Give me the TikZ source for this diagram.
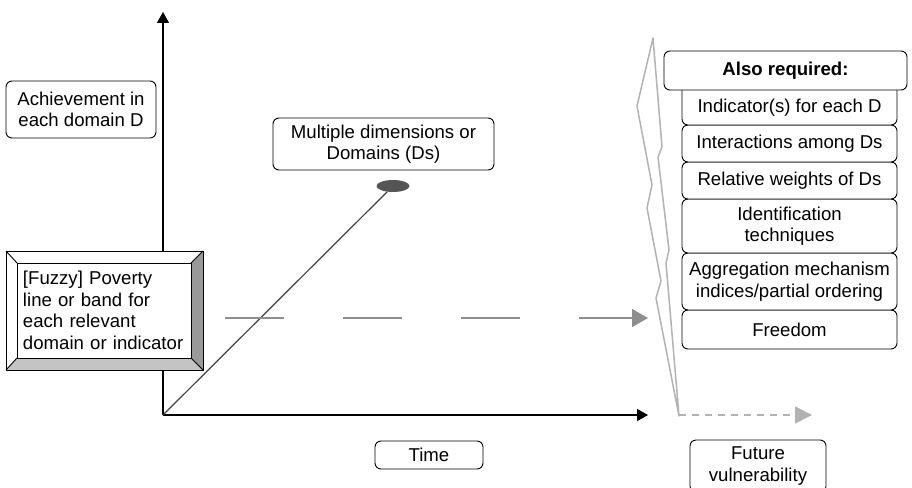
\documentclass[tikz,border=0pt]{standalone}
\usepackage{fontspec}
\setmainfont{Liberation Sans}
\usetikzlibrary{arrows.meta,shapes.geometric}
\definecolor{bevelR}{HTML}{999999}
\definecolor{bevelB}{HTML}{C4C4C4}
\definecolor{lineband}{HTML}{8E8E8E}
\definecolor{zig}{HTML}{B2B2B2}
\definecolor{domfill}{HTML}{555555}
\begin{document}
\begin{tikzpicture}[x=1pt,y=-1pt,
  every node/.style={font=\fontsize{18.6}{21.5}\selectfont, inner sep=0pt},
  rbox/.style={draw=black, line width=0.9pt, rounded corners=6pt, fill=white, align=center},
  stackbox/.style={rbox, minimum width=215pt},
  axis/.style={line width=1.2pt, -{Triangle[length=11pt,width=12pt]}},
  bandline/.style={draw=lineband, line width=1.5pt, dash pattern=on 59pt off 59pt,
    -{Triangle[length=16pt,width=18pt,color=lineband]}},
  futureline/.style={draw=zig, line width=1.5pt, dash pattern=on 7pt off 6pt,
    -{Triangle[length=17pt,width=17pt,color=zig]}},
  zigline/.style={draw=zig, line width=1.5pt, line join=round},
  bevel/.style={draw=black, line width=0.9pt}
]
\useasboundingbox (0,0) rectangle (912,487);
\clip (0,0) rectangle (912,487);

% axes
\coordinate (O) at (163,415);
\coordinate (ytip) at (163,12);
\coordinate (xtip) at (648,415);
\draw[axis] (O) -- (ytip);
\draw[axis] (O) -- (xtip);

% achievement label
\node[rbox, minimum width=150pt, minimum height=57pt] (ach) at (81,109.5)
  {Achievement in\\each domain D};

% domains: diagonal axis ending at a dark ellipse
\node[rbox, minimum width=221pt, minimum height=52pt] (mult) at (383.5,144)
  {Multiple dimensions or\\Domains (Ds)};
\node[ellipse, fill=domfill, minimum width=33pt, minimum height=12pt] (dom) at (393,186) {};
\draw[draw=black!75, line width=1.2pt] (O) -- (dom);

% poverty band line
\coordinate (bandstart) at (225,318);
\coordinate (bandend) at (648,318);
\draw[bandline] (bandstart) -- (bandend);

% bevelled poverty-line box
\fill[white] (6,251) -- (203,251) -- (191,263) -- (17,263) -- cycle;
\fill[white] (6,251) -- (17,263) -- (17,358) -- (6,370) -- cycle;
\fill[bevelR] (203,251) -- (203,370) -- (191,358) -- (191,263) -- cycle;
\fill[bevelB] (6,370) -- (203,370) -- (191,358) -- (17,358) -- cycle;
\draw[bevel] (6,251) rectangle (203,370);
\draw[bevel] (6,251) -- (17,263) (203,251) -- (191,263)
             (6,370) -- (17,358) (203,370) -- (191,358);
\node[draw=black, line width=0.9pt, fill=white, align=left, text width=162pt,
      inner xsep=6pt, minimum height=95pt] (fuzzy) at (104,310.5)
  {[Fuzzy] Poverty\\line or band for\\each relevant\\domain or indicator};

% time label
\node[rbox, minimum width=108pt, minimum height=28pt] (time) at (429,455) {Time};

% zigzag break towards the future
\draw[zigline] (653,38) -- (637,106) -- (652,185) -- (647,208) -- (661,281)
  -- (656,298) -- (679,416) -- (666,263) -- (669,250) -- (658,157)
  -- (662,147) -- cycle;
\coordinate (fstart) at (679,415);
\coordinate (fend) at (812,415);
\draw[futureline] (fstart) -- (fend);

\node[rbox, minimum width=136pt, minimum height=52pt] (future) at (758,466)
  {Future\\vulnerability};

% list of further requirements
\node[stackbox, minimum height=39pt] (free) at (789.5,329.5) {Freedom};
\node[stackbox, minimum height=57pt] (aggr) at (789.5,281.5)
  {Aggregation mechanism\\indices/partial ordering};
\node[stackbox, minimum height=54pt] (ident) at (789.5,226)
  {Identification\\techniques};
\node[stackbox, minimum height=37pt] (weights) at (789.5,180.5) {Relative weights of Ds};
\node[stackbox, minimum height=37pt] (inter) at (789.5,143.5) {Interactions among Ds};
\node[stackbox, minimum height=41pt] (indic) at (789.5,104.5)
  {\raisebox{-3pt}[\height][\depth]{Indicator(s) for each D}};
\node[rbox, minimum width=243pt, minimum height=39pt, font=\fontsize{18.6}{21.5}\selectfont\bfseries]
  (also) at (785.5,70.5) {Also required:};
\end{tikzpicture}
\end{document}
